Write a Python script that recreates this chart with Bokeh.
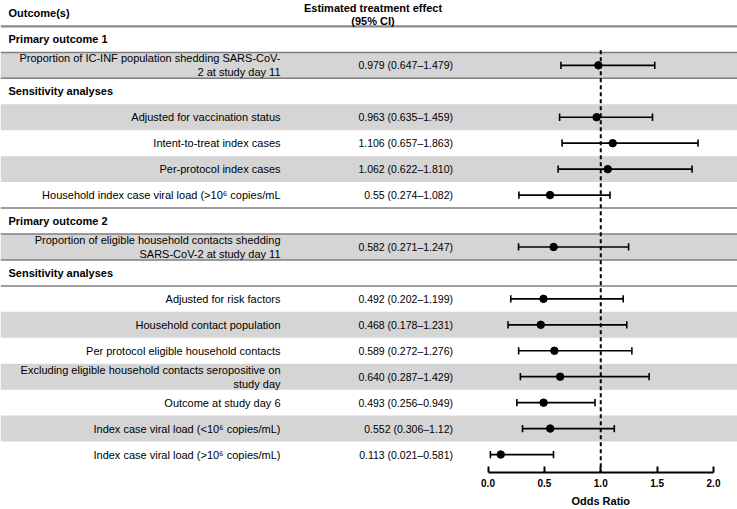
from bokeh.plotting import figure
from bokeh.models import Range1d, FixedTicker, NumeralTickFormatter, ColumnDataSource, LinearAxis
from bokeh.core.properties import value
from bokeh.embed import file_html
from bokeh.resources import INLINE

# ---------------- data ----------------
section_rows = [0, 2, 7, 9]
section_titles = ["Primary outcome 1", "Sensitivity analyses", "Primary outcome 2", "Sensitivity analyses"]

rows = [1, 3, 4, 5, 6, 8, 10, 11, 12, 13, 14, 15, 16]
outcomes = [
    "Proportion of IC-INF population shedding SARS-CoV-\n2 at study day 11",
    "Adjusted for vaccination status",
    "Intent-to-treat index cases",
    "Per-protocol index cases",
    "Household index case viral load (>10\u2076 copies/mL",
    "Proportion of eligible household contacts shedding\nSARS-CoV-2 at study day 11",
    "Adjusted for risk factors",
    "Household contact population",
    "Per protocol eligible household contacts",
    "Excluding eligible household contacts seropositive on\nstudy day",
    "Outcome at study day 6",
    "Index case viral load (<10\u2076 copies/mL)",
    "Index case viral load (>10\u2076 copies/mL)",
]
estimate = [0.979, 0.963, 1.106, 1.062, 0.55, 0.582, 0.492, 0.468, 0.589, 0.640, 0.493, 0.552, 0.113]
ci_low = [0.647, 0.635, 0.657, 0.622, 0.274, 0.271, 0.202, 0.178, 0.272, 0.287, 0.256, 0.306, 0.021]
ci_high = [1.479, 1.459, 1.863, 1.810, 1.082, 1.247, 1.199, 1.231, 1.276, 1.429, 0.949, 1.12, 0.581]
effect_text = [
    "0.979 (0.647\u20131.479)",
    "0.963 (0.635\u20131.459)",
    "1.106 (0.657\u20131.863)",
    "1.062 (0.622\u20131.810)",
    "0.55 (0.274\u20131.082)",
    "0.582 (0.271\u20131.247)",
    "0.492 (0.202\u20131.199)",
    "0.468 (0.178\u20131.231)",
    "0.589 (0.272\u20131.276)",
    "0.640 (0.287\u20131.429)",
    "0.493 (0.256\u20130.949)",
    "0.552 (0.306\u20131.12)",
    "0.113 (0.021\u20130.581)",
]
shaded_rows = [1, 3, 5, 8, 11, 13, 15]
rule_rows = [0.5, 1.5, 6.5, 7.5, 8.5, 9.5]
axis_ticks = [0, 0.5, 1.0, 1.5, 2.0]
null_value = 1.0
x_title = "Odds Ratio"

# ---------------- layout helpers ----------------
W, H = 737, 509
FRAME_H = 473
X0_PX = 487.5
PPU = 112.75
ROW0_PX = 39.0
ROW_H = 26.0


def px(xp):
    return (xp - X0_PX) / PPU


x_lo, x_hi = px(0), px(W)
y_top = (0 - ROW0_PX) / ROW_H
y_bot = (FRAME_H - ROW0_PX) / ROW_H

FONT = value("Liberation Sans")

p = figure(width=W, height=H, output_backend="svg", toolbar_location=None,
           x_range=Range1d(x_lo, x_hi), y_range=Range1d(y_bot, y_top),
           y_axis_location=None, min_border=0, min_border_left=0, min_border_right=0,
           min_border_top=0, min_border_bottom=H - FRAME_H)
p.grid.visible = False
p.outline_line_color = None
p.background_fill_color = "white"
p.border_fill_color = "white"

# shaded bands
p.hbar(y=shaded_rows, left=x_lo, right=x_hi, height=1, fill_color="#d5d5d5", line_color=None)

# rules
p.segment(x0=x_lo, x1=x_hi, y0=rule_rows, y1=rule_rows, line_color="#7f7f7f", line_width=1.5)
p.segment(x0=[x_lo], x1=[x_hi], y0=[-0.5], y1=[-0.5], line_color="#8a8a8a", line_width=2.2)

# null line
p.segment(x0=[null_value], x1=[null_value], y0=[0.42], y1=[y_bot], line_color="black",
          line_width=2, line_dash="4 3")

src = ColumnDataSource(dict(y=rows, est=estimate, lo=ci_low, hi=ci_high, label=outcomes,
                            eff=effect_text))
cap = 0.14
p.segment(x0="lo", x1="hi", y0="y", y1="y", source=src, line_color="black", line_width=1.7)
src_caps = ColumnDataSource(dict(x=ci_low + ci_high, y0=[r - cap for r in rows] * 2,
                                 y1=[r + cap for r in rows] * 2))
p.segment(x0="x", x1="x", y0="y0", y1="y1", source=src_caps, line_color="black", line_width=1.6)
p.scatter(x="est", y="y", source=src, size=7.5, fill_color="black", line_color="black")

# texts
p.text(x=px(280), y="y", text="label", source=src, text_align="right", text_baseline="middle",
       text_font=FONT, text_font_size="11px", text_color="black", text_line_height=1.15)
p.text(x=px(452.5), y="y", text="eff", source=src, text_align="right", text_baseline="middle",
       text_font=FONT, text_font_size="10.5px", text_color="black")
p.text(x=px(8), y=section_rows, text=section_titles, text_align="left", text_baseline="middle",
       text_font=FONT, text_font_size="11px", text_font_style="bold", text_color="black")
p.text(x=[px(8)], y=[-1], text=["Outcome(s)"], text_align="left", text_baseline="middle",
       text_font=FONT, text_font_size="11px", text_font_style="bold", text_color="black")
p.text(x=[px(372.5)], y=[(14 - ROW0_PX) / ROW_H], text=["Estimated treatment effect\n(95% CI)"],
       text_align="center", text_baseline="middle", text_font=FONT, text_font_size="11px",
       text_font_style="bold", text_color="black", text_line_height=1.05)

# axis with ticks
ax = p.xaxis[0]
ax.bounds = (0, 2)
ax.ticker = FixedTicker(ticks=axis_ticks)
ax.formatter = NumeralTickFormatter(format="0.0")
ax.minor_tick_line_color = None
ax.major_tick_in = 6
ax.major_tick_out = 0
ax.major_tick_line_width = 2
ax.major_tick_line_color = "black"
ax.axis_line_width = 2
ax.axis_line_color = "black"
ax.major_label_text_font = "Liberation Sans"
ax.major_label_text_font_size = "10px"
ax.major_label_text_font_style = "bold"
ax.major_label_text_color = "black"
ax.major_label_standoff = 6
ax.axis_label = None

# second axis carrying the title centred under the odds-ratio scale
ax2 = LinearAxis(ticker=FixedTicker(ticks=[null_value]),
                 major_label_overrides={1: x_title},
                 axis_line_color=None, major_tick_line_color=None, minor_tick_line_color=None,
                 major_tick_in=0, major_tick_out=0, major_label_standoff=5,
                 major_label_text_font="Liberation Sans", major_label_text_font_size="11px",
                 major_label_text_font_style="bold", major_label_text_color="black")
p.add_layout(ax2, "below")

open("out.html", "w").write(file_html(p, INLINE))
